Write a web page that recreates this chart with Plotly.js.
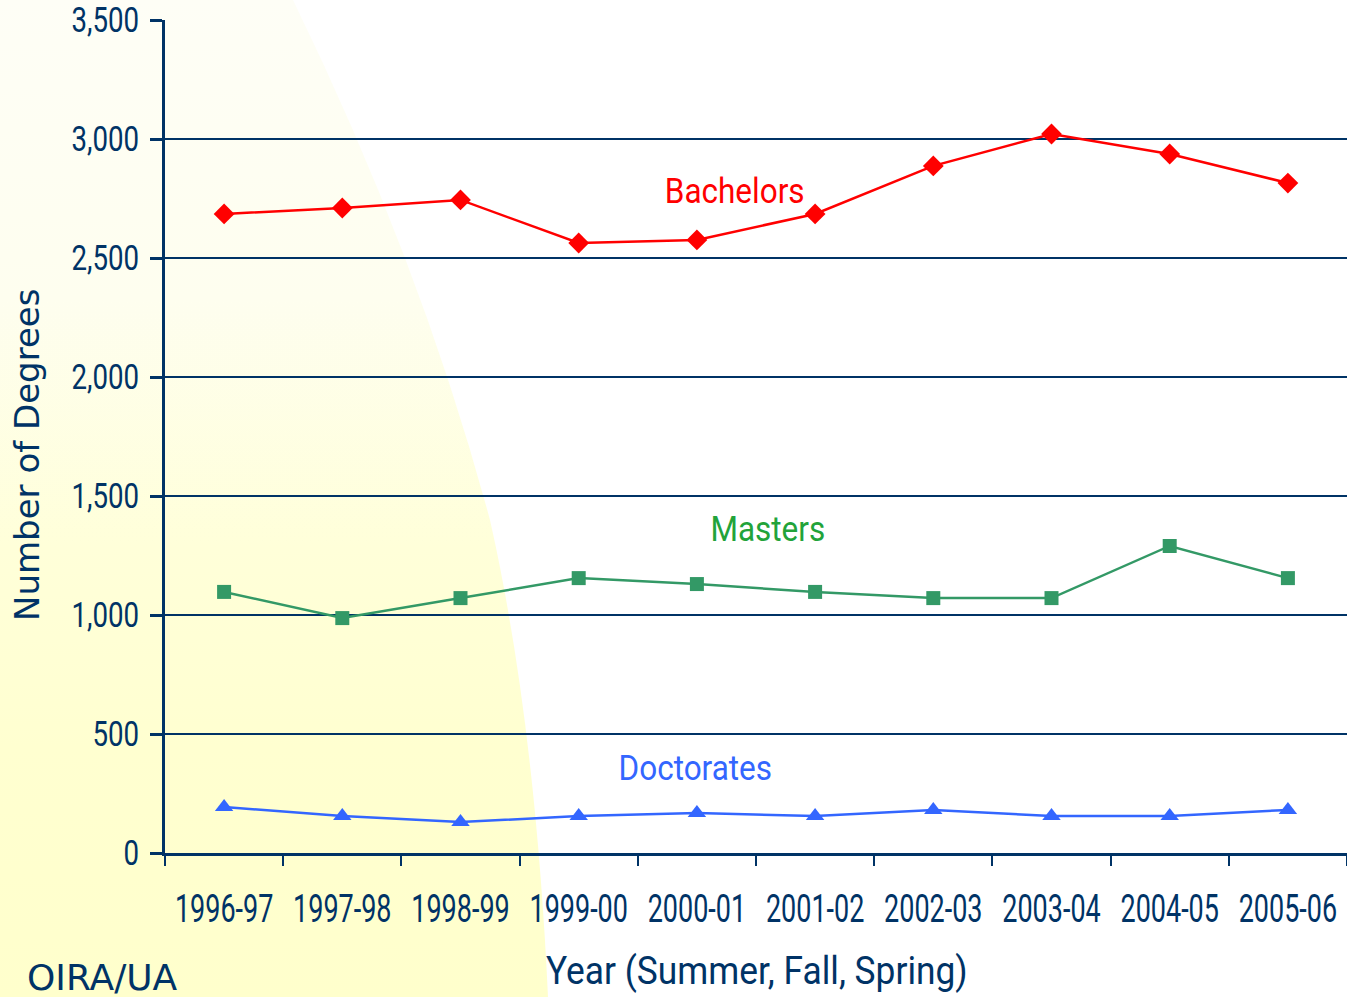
<!DOCTYPE html>
<html>
<head>
<meta charset="utf-8">
<script src="https://cdn.plot.ly/plotly-3.0.1.min.js"></script>
<style>
  html, body { margin: 0; padding: 0; width: 1347px; height: 997px; overflow: hidden; background: #ffffff; }
  #bg { position: absolute; left: 0; top: 0; width: 1347px; height: 997px; }
  #chart { position: absolute; left: 0; top: 0; width: 1347px; height: 997px; }
</style>
</head>
<body>
<svg id="bg" width="1347" height="997" xmlns="http://www.w3.org/2000/svg">
  <defs>
    <linearGradient id="yg" x1="0" y1="0" x2="0" y2="1">
      <stop offset="0" stop-color="#fefef6"/>
      <stop offset="0.3" stop-color="#fefeef"/>
      <stop offset="0.55" stop-color="#ffffd9"/>
      <stop offset="0.75" stop-color="#ffffd0"/>
      <stop offset="1" stop-color="#ffffcc"/>
    </linearGradient>
  </defs>
  <path d="M0,0 L293,0 Q420,260 490,520 Q535,720 548,997 L0,997 Z" fill="url(#yg)"/>
</svg>
<div id="chart"></div>
<script>
const years = ["1996-97","1997-98","1998-99","1999-00","2000-01","2001-02","2002-03","2003-04","2004-05","2005-06"];
const bachelors = [2685, 2710, 2744, 2563, 2576, 2685, 2887, 3021, 2937, 2815];
const masters = [1097, 987, 1071, 1155, 1130, 1097, 1071, 1071, 1290, 1155];
const doctorates = [193, 155, 130, 155, 168, 155, 181, 155, 155, 181];
const yTicks = [0, 500, 1000, 1500, 2000, 2500, 3000, 3500];
const yTickText = ["0", "500", "1,000", "1,500", "2,000", "2,500", "3,000", "3,500"];

const navy = "#003366";
const narrow = "Roboto, Liberation Sans, sans-serif";
const wide = "DejaVu Sans, Verdana, sans-serif";

const traces = [
  {x: years, y: bachelors, name: "Bachelors", mode: "lines+markers", type: "scatter",
   line: {color: "#ff0000", width: 2.5}, marker: {symbol: "diamond", size: 16, color: "#ff0000"}},
  {x: years, y: masters, name: "Masters", mode: "lines+markers", type: "scatter",
   line: {color: "#339966", width: 2.5}, marker: {symbol: "square", size: 14, color: "#339966"}},
  {x: years, y: doctorates, name: "Doctorates", mode: "lines+markers", type: "scatter",
   line: {color: "#3366ff", width: 2.5}, marker: {symbol: "triangle-up", size: 16, color: "#3366ff"}}
];

const layout = {
  width: 1347, height: 997,
  margin: {l: 165, r: 0, t: 20, b: 144},
  paper_bgcolor: "rgba(0,0,0,0)",
  plot_bgcolor: "rgba(0,0,0,0)",
  showlegend: false,
  font: {family: narrow, color: navy},
  xaxis: {
    type: "category",
    range: [-0.5, 9.5],
    tickson: "boundaries",
    tickangle: 0,
    ticks: "outside", ticklen: 10, tickwidth: 2, tickcolor: navy,
    ticklabelstandoff: 20,
    ticklabeloverflow: "allow",
    showline: true, linecolor: navy, linewidth: 3,
    showgrid: false, zeroline: false,
    tickfont: {family: narrow, size: 38, color: navy}
  },
  yaxis: {
    range: [0, 3500],
    tickvals: yTicks, ticktext: yTickText,
    ticks: "outside", ticklen: 12, tickwidth: 3, tickcolor: navy,
    ticklabelstandoff: 4,
    ticklabeloverflow: "allow",
    showline: true, linecolor: navy, linewidth: 3,
    showgrid: true, gridcolor: navy, gridwidth: 2.5,
    zeroline: false,
    tickfont: {family: narrow, size: 35, color: navy}
  },
  annotations: [
    {x: 4.32, y: 2780, xref: "x", yref: "y", text: "Bachelors", showarrow: false,
     font: {family: narrow, size: 35, color: "#ff0000"}},
    {x: 4.60, y: 1361, xref: "x", yref: "y", text: "Masters", showarrow: false,
     font: {family: narrow, size: 35, color: "#22a33a"}},
    {x: 3.99, y: 353, xref: "x", yref: "y", text: "Doctorates", showarrow: false,
     font: {family: narrow, size: 35, color: "#3366ff"}},
    {x: (757 - 165) / 1182, y: -(971 - 853) / 833, xref: "paper", yref: "paper",
     xanchor: "center", yanchor: "middle",
     text: "Year (Summer, Fall, Spring)", showarrow: false,
     font: {family: narrow, size: 38, color: navy}},
    {x: (27 - 165) / 1182, y: (853 - 455) / 833, xref: "paper", yref: "paper",
     xanchor: "center", yanchor: "middle", textangle: -90,
     text: "Number of Degrees", showarrow: false,
     font: {family: wide, size: 34, color: navy}},
    {x: (25 - 165) / 1182, y: -(977 - 853) / 833, xref: "paper", yref: "paper",
     xanchor: "left", yanchor: "middle",
     text: "OIRA/UA", showarrow: false, font: {family: wide, size: 36, color: navy}}
  ]
};

// Narrow a text horizontally with an SVG transform about an anchor point (0 = left, 0.5 = centre, 1 = right).
function squeeze(el, factor, anchor) {
  const b = el.getBBox();
  if (!b.width) return;
  const cx = b.x + b.width * anchor;
  const prev = el.getAttribute("transform") || "";
  el.setAttribute("transform",
    prev + " translate(" + cx + ",0) scale(" + factor + ",1) translate(" + (-cx) + ",0)");
}

Plotly.newPlot("chart", traces, layout, {displayModeBar: false, staticPlot: true}).then(function (gd) {
  gd.querySelectorAll(".xtick text").forEach(t => squeeze(t, 0.71, 0.5));
  gd.querySelectorAll(".ytick text").forEach(t => squeeze(t, 0.79, 1));
  const ann = gd.querySelectorAll(".annotation-text");
  const factors = [0.9, 0.9, 0.9, 0.93, 1.0, 1.0];
  ann.forEach((t, i) => { if (factors[i] !== 1.0) squeeze(t, factors[i], 0.5); });
});
</script>
</body>
</html>
